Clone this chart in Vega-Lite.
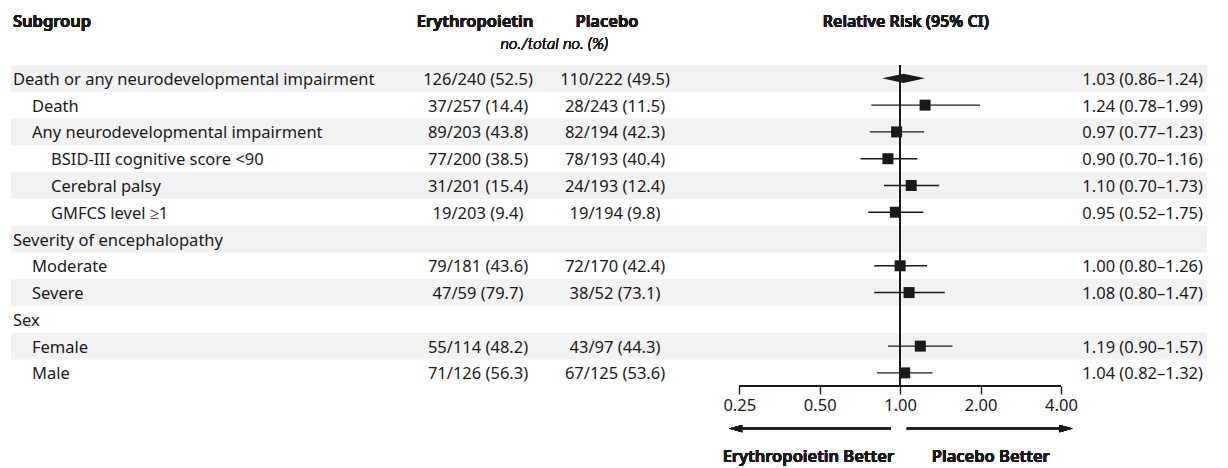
{
  "$schema": "https://vega.github.io/schema/vega-lite/v6.json",
  "padding": {"left": 11, "top": 0, "right": 0, "bottom": 0},
  "spacing": 0,
  "bounds": "flush",
  "config": {
    "view": {"stroke": null},
    "font": "Noto Sans",
    "text": {"font": "Noto Sans", "fontSize": 16.5, "color": "#1a1a1a", "baseline": "middle", "dy": 1.5},
    "axis": {"labelFont": "Noto Sans", "labelFontSize": 16.5, "labelColor": "#1a1a1a", "tickColor": "#1a1a1a", "tickWidth": 1.4, "tickSize": 8, "domain": false, "grid": false, "labelPadding": 3}
  },
  "datasets": {
    "rows": [
      {"row": 1, "level": 0, "label": "Death or any neurodevelopmental impairment", "ery": "126/240 (52.5)", "pla": "110/222 (49.5)", "est": 1.03, "lo": 0.86, "hi": 1.24, "rr": "1.03 (0.86–1.24)", "kind": "overall"},
      {"row": 2, "level": 1, "label": "Death", "ery": "37/257 (14.4)", "pla": "28/243 (11.5)", "est": 1.24, "lo": 0.78, "hi": 1.99, "rr": "1.24 (0.78–1.99)", "kind": "sub"},
      {"row": 3, "level": 1, "label": "Any neurodevelopmental impairment", "ery": "89/203 (43.8)", "pla": "82/194 (42.3)", "est": 0.97, "lo": 0.77, "hi": 1.23, "rr": "0.97 (0.77–1.23)", "kind": "sub"},
      {"row": 4, "level": 2, "label": "BSID-III cognitive score <90", "ery": "77/200 (38.5)", "pla": "78/193 (40.4)", "est": 0.90, "lo": 0.71, "hi": 1.16, "rr": "0.90 (0.70–1.16)", "kind": "sub"},
      {"row": 5, "level": 2, "label": "Cerebral palsy", "ery": "31/201 (15.4)", "pla": "24/193 (12.4)", "est": 1.10, "lo": 0.87, "hi": 1.40, "rr": "1.10 (0.70–1.73)", "kind": "sub"},
      {"row": 6, "level": 2, "label": "GMFCS level ≥1", "ery": "19/203 (9.4)", "pla": "19/194 (9.8)", "est": 0.96, "lo": 0.76, "hi": 1.22, "rr": "0.95 (0.52–1.75)", "kind": "sub"},
      {"row": 7, "level": 0, "label": "Severity of encephalopathy", "ery": "", "pla": "", "rr": "", "kind": "group"},
      {"row": 8, "level": 1, "label": "Moderate", "ery": "79/181 (43.6)", "pla": "72/170 (42.4)", "est": 1.00, "lo": 0.80, "hi": 1.26, "rr": "1.00 (0.80–1.26)", "kind": "sub"},
      {"row": 9, "level": 1, "label": "Severe", "ery": "47/59 (79.7)", "pla": "38/52 (73.1)", "est": 1.08, "lo": 0.80, "hi": 1.47, "rr": "1.08 (0.80–1.47)", "kind": "sub"},
      {"row": 10, "level": 0, "label": "Sex", "ery": "", "pla": "", "rr": "", "kind": "group"},
      {"row": 11, "level": 1, "label": "Female", "ery": "55/114 (48.2)", "pla": "43/97 (44.3)", "est": 1.19, "lo": 0.90, "hi": 1.57, "rr": "1.19 (0.90–1.57)", "kind": "sub"},
      {"row": 12, "level": 1, "label": "Male", "ery": "71/126 (56.3)", "pla": "67/125 (53.6)", "est": 1.04, "lo": 0.82, "hi": 1.32, "rr": "1.04 (0.82–1.32)", "kind": "sub"}
    ]
  },
  "hconcat": [
    {
      "width": 394, "height": 386,
      "data": {"name": "rows"},
      "encoding": {
        "y": {"field": "row", "type": "quantitative", "scale": {"domain": [-1.927, 12.49], "reverse": true, "nice": false, "zero": false}, "axis": null}
      },
      "layer": [
        {"transform": [{"filter": "datum.row % 2 == 1"}], "mark": {"type": "rect", "color": "#f2f2f2", "yOffset": -13.375, "y2Offset": 13.375}, "encoding": {"x": {"value": 0}, "x2": {"value": "width"}, "y2": {"field": "row"}}},
        {"mark": {"type": "text", "align": "left"},
         "encoding": {"x": {"field": "level", "type": "quantitative", "scale": {"domain": [0, 2], "range": [2, 40], "nice": false, "zero": false}, "axis": null}, "text": {"field": "label"}}},
        {"mark": {"type": "text", "align": "left", "fontWeight": 600},
         "encoding": {"x": {"datum": 0}, "y": {"datum": -1.18}, "text": {"value": "Subgroup"}}}
      ]
    },
    {
      "width": 146, "height": 386,
      "data": {"name": "rows"},
      "encoding": {
        "y": {"field": "row", "type": "quantitative", "scale": {"domain": [-1.927, 12.49], "reverse": true, "nice": false, "zero": false}, "axis": null}
      },
      "layer": [
        {"transform": [{"filter": "datum.row % 2 == 1"}], "mark": {"type": "rect", "color": "#f2f2f2", "yOffset": -13.375, "y2Offset": 13.375}, "encoding": {"x": {"value": 0}, "x2": {"value": "width"}, "y2": {"field": "row"}}},
        {"mark": {"type": "text", "align": "center"}, "encoding": {"text": {"field": "ery"}}},
        {"mark": {"type": "text", "align": "center", "fontWeight": 600, "dx": -3},
         "encoding": {"y": {"datum": -1.18}, "text": {"value": "Erythropoietin"}}},
        {"mark": {"type": "text", "align": "right", "font": "Lato", "fontStyle": "italic", "fontWeight": 300, "fontSize": 16.5, "dx": 130},
         "encoding": {"y": {"datum": -0.357}, "text": {"value": "no./total no. (%)"}}}
      ]
    },
    {
      "width": 128, "height": 386,
      "data": {"name": "rows"},
      "encoding": {
        "y": {"field": "row", "type": "quantitative", "scale": {"domain": [-1.927, 12.49], "reverse": true, "nice": false, "zero": false}, "axis": null}
      },
      "layer": [
        {"transform": [{"filter": "datum.row % 2 == 1"}], "mark": {"type": "rect", "color": "#f2f2f2", "yOffset": -13.375, "y2Offset": 13.375}, "encoding": {"x": {"value": 0}, "x2": {"value": "width"}, "y2": {"field": "row"}}},
        {"mark": {"type": "text", "align": "center"}, "encoding": {"text": {"field": "pla"}}},
        {"mark": {"type": "text", "align": "center", "fontWeight": 600, "dx": -8},
         "encoding": {"y": {"datum": -1.18}, "text": {"value": "Placebo"}}}
      ]
    },
    {
      "width": 442, "height": 386,
      "data": {"name": "rows"},
      "encoding": {
        "x": {"field": "lo", "type": "quantitative", "scale": {"type": "log", "base": 2, "domain": [0.1487, 6.71], "nice": false},
              "axis": {"values": [0.25, 0.5, 1, 2, 4], "format": ".2f", "title": null, "orient": "bottom"}},
        "y": {"field": "row", "type": "quantitative", "scale": {"domain": [-1.927, 12.49], "reverse": true, "nice": false, "zero": false}, "axis": null}
      },
      "layer": [
        {"transform": [{"filter": "datum.row % 2 == 1"}], "mark": {"type": "rect", "color": "#f2f2f2", "yOffset": -13.375, "y2Offset": 13.375}, "encoding": {"x": {"value": 0}, "x2": {"value": "width"}, "y2": {"field": "row"}}},
        {"transform": [{"filter": "datum.kind == 'sub'"}],
         "mark": {"type": "rule", "color": "#1a1a1a", "strokeWidth": 1.4},
         "encoding": {"x2": {"field": "hi"}}},
        {"mark": {"type": "rule", "color": "#1a1a1a", "strokeWidth": 1.4},
         "encoding": {"x": {"datum": 0.25, "type": "quantitative"}, "x2": {"datum": 4}, "y": {"datum": 12.49}}},
        {"mark": {"type": "rule", "color": "#1a1a1a", "strokeWidth": 1.4},
         "encoding": {"x": {"datum": 1, "type": "quantitative"}, "y": {"datum": 0.5}, "y2": {"datum": 12.49}}},
        {"transform": [{"filter": "datum.kind == 'sub'"}],
         "mark": {"type": "point", "shape": "square", "filled": true, "color": "#1a1a1a", "size": 121, "opacity": 1},
         "encoding": {"x": {"field": "est", "type": "quantitative"}}},
        {"transform": [{"filter": "datum.kind == 'overall'"}],
         "mark": {"type": "point", "shape": "M-1,0L0,-0.21L1,0L0,0.21Z", "filled": true, "color": "#1a1a1a", "size": 1849, "opacity": 1},
         "encoding": {"x": {"field": "est", "type": "quantitative"}}},
        {"mark": {"type": "rule", "color": "#1a1a1a", "strokeWidth": 1.4},
         "encoding": {"x": {"datum": 0.923, "type": "quantitative"}, "x2": {"datum": 0.25}, "y": {"datum": 14.08}}},
        {"mark": {"type": "rule", "color": "#1a1a1a", "strokeWidth": 1.4},
         "encoding": {"x": {"datum": 1.059, "type": "quantitative"}, "x2": {"datum": 4.0}, "y": {"datum": 14.08}}},
        {"mark": {"type": "point", "shape": "M0,0L2,-0.55L2,0.55Z", "filled": true, "color": "#1a1a1a", "size": 169, "opacity": 1},
         "encoding": {"x": {"datum": 0.229, "type": "quantitative"}, "y": {"datum": 14.08}}},
        {"mark": {"type": "point", "shape": "M0,0L-2,-0.55L-2,0.55Z", "filled": true, "color": "#1a1a1a", "size": 169, "opacity": 1},
         "encoding": {"x": {"datum": 4.42, "type": "quantitative"}, "y": {"datum": 14.08}}},
        {"mark": {"type": "text", "align": "right", "fontWeight": 600},
         "encoding": {"x": {"datum": 0.949, "type": "quantitative"}, "y": {"datum": 15.08}, "text": {"value": "Erythropoietin Better"}}},
        {"mark": {"type": "text", "align": "left", "fontWeight": 600},
         "encoding": {"x": {"datum": 1.314, "type": "quantitative"}, "y": {"datum": 15.08}, "text": {"value": "Placebo Better"}}},
        {"mark": {"type": "text", "align": "center", "fontWeight": 600, "fontSize": 16},
         "encoding": {"x": {"datum": 1.05, "type": "quantitative"}, "y": {"datum": -1.18}, "text": {"value": "Relative Risk (95% CI)"}}}
      ]
    },
    {
      "width": 86, "height": 386,
      "data": {"name": "rows"},
      "encoding": {
        "y": {"field": "row", "type": "quantitative", "scale": {"domain": [-1.927, 12.49], "reverse": true, "nice": false, "zero": false}, "axis": null}
      },
      "layer": [
        {"transform": [{"filter": "datum.row % 2 == 1"}], "mark": {"type": "rect", "color": "#f2f2f2", "yOffset": -13.375, "y2Offset": 13.375}, "encoding": {"x": {"value": 0}, "x2": {"value": "width"}, "y2": {"field": "row"}}},
        {"mark": {"type": "text", "align": "right", "dx": -4}, "encoding": {"x": {"value": "width"}, "text": {"field": "rr"}}}
      ]
    }
  ]
}
